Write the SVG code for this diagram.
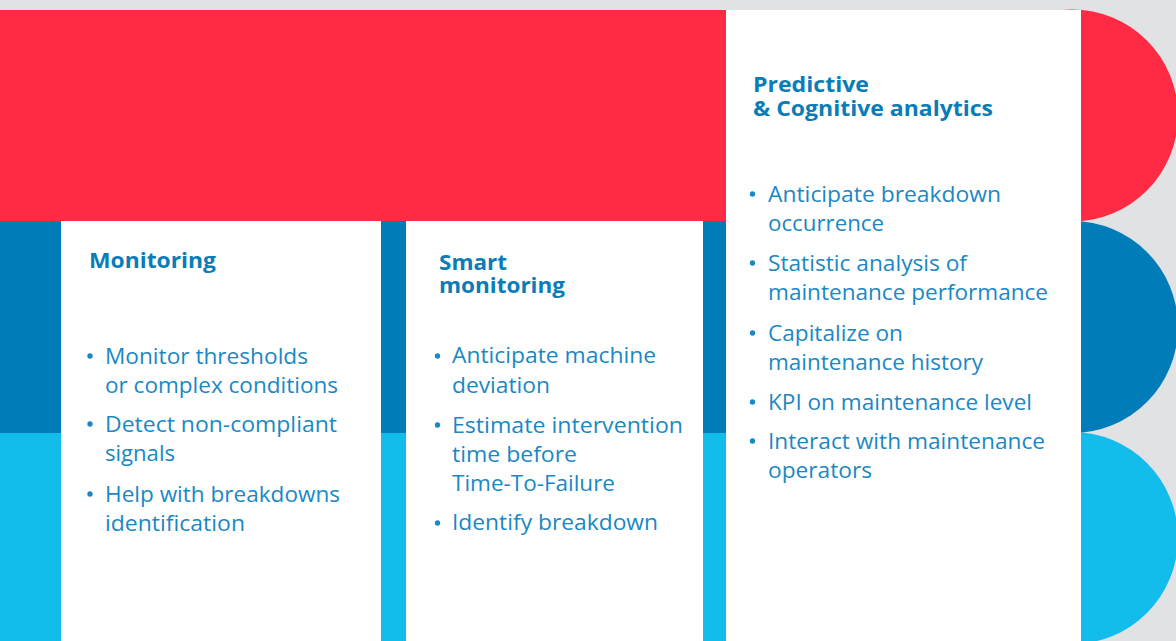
<svg xmlns="http://www.w3.org/2000/svg" width="1176" height="641" viewBox="0 0 1176 641">
<style>
.h{font-family:"Open Sans","Noto Sans","Liberation Sans",sans-serif;font-weight:700;font-size:22px;fill:#0A7DB8}
.b{font-family:"Open Sans","Noto Sans","Liberation Sans",sans-serif;font-weight:400;font-size:22px;fill:#1A88C4}
.dot{fill:#1A88C4}
</style>
<rect x="0" y="0" width="1176" height="641" fill="#E1E2E4"/>
<g id="bands">
<rect x="0" y="10" width="726" height="211" fill="#FF2B45"/>
<rect x="0" y="221" width="726" height="212" fill="#007DB8"/>
<rect x="0" y="433" width="726" height="208" fill="#12BDEB"/>
<circle cx="1072" cy="538" r="106" fill="#12BDEB"/>
<circle cx="1072" cy="327" r="106" fill="#007DB8"/>
<circle cx="1072" cy="115.5" r="106" fill="#FF2B45"/>
</g>
<g id="connectors"></g>
<g id="monitoring">
<rect x="61" y="221" width="320" height="420" fill="#fff"/>
<text class="h" x="89" y="268" textLength="127" lengthAdjust="spacingAndGlyphs">Monitoring</text>
<circle class="dot" cx="90" cy="356" r="2.7"/>
<text class="b" x="105" y="364" textLength="203" lengthAdjust="spacingAndGlyphs">Monitor thresholds</text>
<text class="b" x="105" y="393" textLength="233" lengthAdjust="spacingAndGlyphs">or complex conditions</text>
<circle class="dot" cx="90" cy="424" r="2.7"/>
<text class="b" x="105" y="432" textLength="232" lengthAdjust="spacingAndGlyphs">Detect non-compliant</text>
<text class="b" x="105" y="461" textLength="70" lengthAdjust="spacingAndGlyphs">signals</text>
<circle class="dot" cx="90" cy="494" r="2.7"/>
<text class="b" x="105" y="502" textLength="235" lengthAdjust="spacingAndGlyphs">Help with breakdowns</text>
<text class="b" x="105" y="531" textLength="140" lengthAdjust="spacingAndGlyphs">identification</text>
</g>
<g id="smart-monitoring">
<rect x="406" y="221" width="297" height="420" fill="#fff"/>
<text class="h" x="439" y="270" textLength="68" lengthAdjust="spacingAndGlyphs">Smart</text>
<text class="h" x="439" y="293" textLength="126" lengthAdjust="spacingAndGlyphs">monitoring</text>
<circle class="dot" cx="437.5" cy="356" r="2.7"/>
<text class="b" x="452" y="363" textLength="204" lengthAdjust="spacingAndGlyphs">Anticipate machine</text>
<text class="b" x="452" y="392.5" textLength="98" lengthAdjust="spacingAndGlyphs">deviation</text>
<circle class="dot" cx="437.5" cy="425" r="2.7"/>
<text class="b" x="452" y="432.5" textLength="231" lengthAdjust="spacingAndGlyphs">Estimate intervention</text>
<text class="b" x="452" y="461.5" textLength="125" lengthAdjust="spacingAndGlyphs">time before</text>
<text class="b" x="452" y="490.5" textLength="163" lengthAdjust="spacingAndGlyphs">Time-To-Failure</text>
<circle class="dot" cx="437.5" cy="523" r="2.7"/>
<text class="b" x="452" y="530" textLength="206" lengthAdjust="spacingAndGlyphs">Identify breakdown</text>
</g>
<g id="predictive">
<rect x="726" y="10" width="355" height="631" fill="#fff"/>
<text class="h" x="753" y="91.5" textLength="116" lengthAdjust="spacingAndGlyphs">Predictive</text>
<text class="h" x="753" y="116" textLength="240" lengthAdjust="spacingAndGlyphs">&amp; Cognitive analytics</text>
<circle class="dot" cx="752.5" cy="194" r="2.7"/>
<text class="b" x="768" y="201.5" textLength="233" lengthAdjust="spacingAndGlyphs">Anticipate breakdown</text>
<text class="b" x="768" y="230.5" textLength="116" lengthAdjust="spacingAndGlyphs">occurrence</text>
<circle class="dot" cx="752.5" cy="263" r="2.7"/>
<text class="b" x="768" y="270.5" textLength="199" lengthAdjust="spacingAndGlyphs">Statistic analysis of</text>
<text class="b" x="768" y="300" textLength="280" lengthAdjust="spacingAndGlyphs">maintenance performance</text>
<circle class="dot" cx="752.5" cy="333" r="2.7"/>
<text class="b" x="768" y="340.5" textLength="135" lengthAdjust="spacingAndGlyphs">Capitalize on</text>
<text class="b" x="768" y="369.5" textLength="215" lengthAdjust="spacingAndGlyphs">maintenance history</text>
<circle class="dot" cx="752.5" cy="402" r="2.7"/>
<text class="b" x="768" y="409.5" textLength="264" lengthAdjust="spacingAndGlyphs">KPI on maintenance level</text>
<circle class="dot" cx="752.5" cy="441" r="2.7"/>
<text class="b" x="768" y="448.5" textLength="277" lengthAdjust="spacingAndGlyphs">Interact with maintenance</text>
<text class="b" x="768" y="478" textLength="104" lengthAdjust="spacingAndGlyphs">operators</text>
</g>
</svg>
